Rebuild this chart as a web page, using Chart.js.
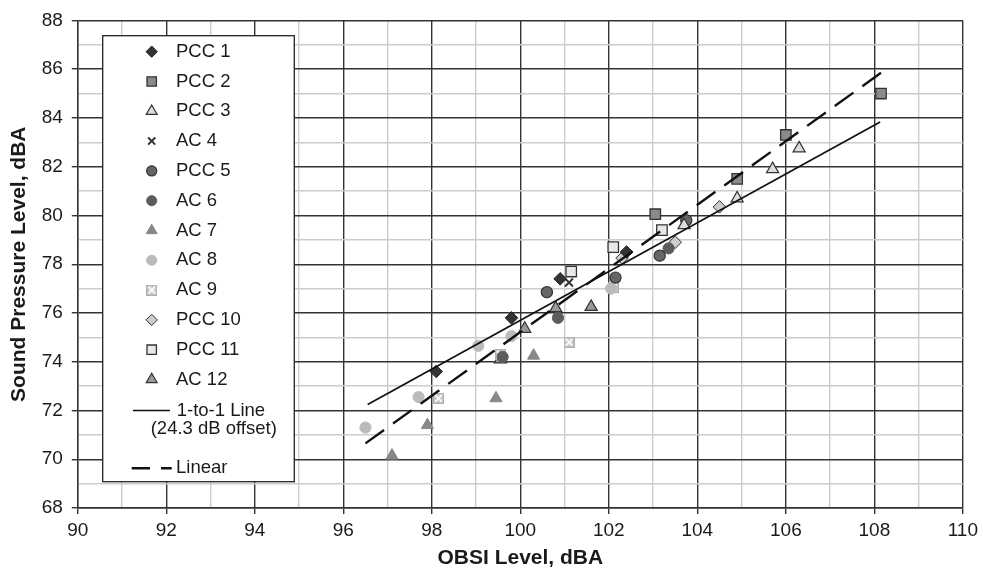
<!DOCTYPE html>
<html>
<head>
<meta charset="utf-8">
<script src="https://cdn.jsdelivr.net/npm/chart.js@4.4.1/dist/chart.umd.min.js"></script>
<style>
html,body{margin:0;padding:0;background:#fff;}
#wrap{position:relative;width:983px;height:569px;}
</style>
</head>
<body>
<div id="wrap"><canvas id="c" width="983" height="569"></canvas></div>
<script>
// ---- data ----
const xTickLabels = [90, 92, 94, 96, 98, 100, 102, 104, 106, 108, 110];
const yTickLabels = [68, 70, 72, 74, 76, 78, 80, 82, 84, 86, 88];

const pcc1X = [98.1, 99.8, 100.9, 102.4];
const pcc1Y = [73.6, 75.8, 77.4, 78.5];
const pcc2X = [103.05, 104.9, 106.0, 108.15];
const pcc2Y = [80.05, 81.5, 83.3, 85.0];
const pcc3X = [103.7, 104.9, 105.7, 106.3];
const pcc3Y = [79.6, 80.7, 81.9, 82.75];
const ac4X = [101.1];
const ac4Y = [77.25];
const pcc5X = [100.6, 102.15, 103.15, 103.75];
const pcc5Y = [76.85, 77.45, 78.35, 79.8];
const ac6X = [99.6, 100.85, 103.35];
const ac6Y = [74.2, 75.8, 78.65];
const ac7X = [97.1, 97.9, 99.45, 100.3];
const ac7Y = [70.15, 71.4, 72.5, 74.25];
const ac8X = [96.5, 97.7, 99.05, 99.8, 102.05];
const ac8Y = [71.3, 72.55, 74.65, 75.05, 77.0];
const ac9X = [98.15, 99.55, 101.1, 102.1];
const ac9Y = [72.5, 74.3, 74.8, 77.05];
const pcc10X = [102.3, 103.5, 104.5];
const pcc10Y = [78.25, 78.9, 80.35];
const pcc11X = [101.15, 102.1, 103.2];
const pcc11Y = [77.7, 78.7, 79.4];
const ac12X = [99.55, 100.1, 100.8, 101.6];
const ac12Y = [74.1, 75.35, 76.2, 76.25];

const oneToOneX = [96.55, 108.13];
const oneToOneY = [72.25, 83.83];
const linearX = [96.5, 108.15];
const linearY = [70.65, 85.85];

const seriesNames = ['PCC 1','PCC 2','PCC 3','AC 4','PCC 5','AC 6','AC 7','AC 8','AC 9','PCC 10','PCC 11','AC 12'];
const lineNames = ['1-to-1 Line', '(24.3 dB offset)', 'Linear'];

// ---- styles ----
function makeAC9() {
  const c = document.createElement('canvas');
  c.width = 11; c.height = 11;
  const g = c.getContext('2d');
  g.fillStyle = '#c8c8c8';
  g.fillRect(0, 0, 11, 11);
  g.strokeStyle = '#adadad';
  g.lineWidth = 1;
  g.strokeRect(0.5, 0.5, 10, 10);
  g.strokeStyle = '#ffffff';
  g.lineWidth = 1.8;
  g.beginPath();
  g.moveTo(2.2, 2.2); g.lineTo(8.8, 8.8);
  g.moveTo(8.8, 2.2); g.lineTo(2.2, 8.8);
  g.stroke();
  return c;
}
const ac9Img = makeAC9();

const styles = [
  {pointStyle:'rectRot',  radius:6.3, bg:'#333333', bc:'#222222', bw:1},
  {pointStyle:'rect',     radius:7.4, bg:'#8a8a8a', bc:'#333333', bw:1.3},
  {pointStyle:'triangle', radius:7,   bg:'#dddddd', bc:'#333333', bw:1.2},
  {pointStyle:'crossRot', radius:5.6, bg:'#333333', bc:'#333333', bw:2},
  {pointStyle:'circle',   radius:5.6, bg:'#666666', bc:'#333333', bw:1.2},
  {pointStyle:'circle',   radius:5.6, bg:'#5c5c5c', bc:'#5c5c5c', bw:1},
  {pointStyle:'triangle', radius:7,   bg:'#888888', bc:'#888888', bw:1},
  {pointStyle:'circle',   radius:5.6, bg:'#bbbbbb', bc:'#bbbbbb', bw:1},
  {pointStyle:ac9Img,     radius:5.5, bg:'#c8c8c8', bc:'#c8c8c8', bw:0},
  {pointStyle:'rectRot',  radius:6.3, bg:'#cccccc', bc:'#333333', bw:1},
  {pointStyle:'rect',     radius:7.4, bg:'#e8e8e8', bc:'#333333', bw:1.3},
  {pointStyle:'triangle', radius:7,   bg:'#999999', bc:'#333333', bw:1.2}
];

const seriesX = [pcc1X,pcc2X,pcc3X,ac4X,pcc5X,ac6X,ac7X,ac8X,ac9X,pcc10X,pcc11X,ac12X];
const seriesY = [pcc1Y,pcc2Y,pcc3Y,ac4Y,pcc5Y,ac6Y,ac7Y,ac8Y,ac9Y,pcc10Y,pcc11Y,ac12Y];
const toPts = (xs, ys) => xs.map((x, i) => ({x: x, y: ys[i]}));

const datasets = [
  {label:'1-to-1', data: toPts(oneToOneX, oneToOneY), showLine:true, borderColor:'#111', borderWidth:1.7,
   pointRadius:0, fill:false, order:0},
  {label:'Linear', data: toPts(linearX, linearY), showLine:true, borderColor:'#111', borderWidth:2.4,
   borderDash:[23, 11], pointRadius:0, fill:false, order:0}
];
seriesNames.forEach((n, i) => {
  const s = styles[i];
  datasets.push({
    label: n, data: toPts(seriesX[i], seriesY[i]), showLine:false,
    pointStyle: s.pointStyle, pointRadius: s.radius, pointHoverRadius: s.radius,
    backgroundColor: s.bg, borderColor: s.bc, pointBorderWidth: s.bw, order: 1
  });
});

const FONT = '"Liberation Sans", Arial, Helvetica, sans-serif';

const legendPlugin = {
  id: 'boxLegend',
  afterDatasetsDraw(chart) {
    const ctx = chart.ctx;
    ctx.save();
    const bx = 102.7, by = 35.7, bw = 191.6, bh = 446;
    ctx.fillStyle = '#ffffff';
    ctx.fillRect(bx, by, bw, bh);
    ctx.strokeStyle = '#222';
    ctx.lineWidth = 1.3;
    ctx.strokeRect(bx, by, bw, bh);
    ctx.font = '18.5px ' + FONT;
    ctx.textBaseline = 'middle';
    ctx.textAlign = 'left';
    seriesNames.forEach((n, i) => {
      const y = 51.7 + i * 29.8;
      const s = styles[i];
      ctx.fillStyle = s.bg;
      ctx.strokeStyle = s.bc;
      ctx.lineWidth = s.bw;
      Chart.helpers.drawPoint(ctx, {pointStyle: s.pointStyle, radius: s.radius * 0.9, rotation: 0, borderWidth: s.bw}, 151.7, y);
      ctx.fillStyle = '#1a1a1a';
      ctx.fillText(n, 176, y);
    });
    // 1-to-1 line entry
    ctx.strokeStyle = '#111';
    ctx.lineWidth = 1.6;
    ctx.beginPath();
    ctx.moveTo(133, 410.5); ctx.lineTo(170, 410.5);
    ctx.stroke();
    ctx.fillStyle = '#1a1a1a';
    ctx.fillText(lineNames[0], 176.7, 410.5);
    ctx.fillText(lineNames[1], 150.7, 428.5);
    // Linear entry
    ctx.lineWidth = 2.6;
    ctx.beginPath();
    ctx.moveTo(131.7, 468.3); ctx.lineTo(150, 468.3);
    ctx.moveTo(161, 468.3); ctx.lineTo(171.7, 468.3);
    ctx.stroke();
    ctx.fillText(lineNames[2], 176, 468.3);
    ctx.restore();
  }
};

const gridColor = (c) => (c.tick && Math.round(c.tick.value) % 2 === 0) ? '#333333' : '#cccccc';
const tickColor = (c) => (c.tick && Math.round(c.tick.value) % 2 === 0) ? '#333333' : 'rgba(0,0,0,0)';
const gridWidth = 1.4;

new Chart(document.getElementById('c'), {
  type: 'scatter',
  data: {datasets: datasets},
  plugins: [legendPlugin],
  options: {
    responsive: false,
    animation: false,
    events: [],
    layout: {padding: {left: 0, top: 18.8, right: 17.2, bottom: 0}},
    plugins: {legend: {display: false}, tooltip: {enabled: false}, title: {display: false}},
    scales: {
      x: {
        type: 'linear', min: 90, max: 110,
        afterBuildTicks: (s) => { const t = []; for (let v = 90; v <= 110; v++) t.push({value: v}); s.ticks = t; },
        afterFit: (s) => { s.height = 61; },
        ticks: {
          autoSkip: false, maxRotation: 0, padding: 5, color: '#1a1a1a',
          font: {family: FONT, size: 19},
          callback: (v) => xTickLabels.includes(v) ? String(v) : ''
        },
        grid: {color: gridColor, lineWidth: gridWidth, tickColor: tickColor, tickLength: 6, drawTicks: true},
        border: {display: true, color: '#333333', width: 1.4},
        title: {display: true, text: 'OBSI Level, dBA', color: '#1a1a1a',
          font: {family: FONT, size: 21, weight: 'bold', lineHeight: 0.7}, padding: {top: 0, bottom: 3}}
      },
      y: {
        type: 'linear', min: 68, max: 88,
        afterBuildTicks: (s) => { const t = []; for (let v = 68; v <= 88; v++) t.push({value: v}); s.ticks = t; },
        afterFit: (s) => { s.width = 77.8; },
        ticks: {
          autoSkip: false, padding: 9, color: '#1a1a1a',
          font: {family: FONT, size: 19},
          callback: (v) => yTickLabels.includes(v) ? String(v) : ''
        },
        grid: {color: gridColor, lineWidth: gridWidth, tickColor: tickColor, tickLength: 6, drawTicks: true},
        border: {display: true, color: '#333333', width: 1.4},
        title: {display: true, text: 'Sound Pressure Level, dBA', color: '#1a1a1a',
          font: {family: FONT, size: 21, weight: 'bold', lineHeight: 1.2}, padding: {top: 6.4, bottom: 0}}
      }
    }
  }
});
</script>
</body>
</html>
